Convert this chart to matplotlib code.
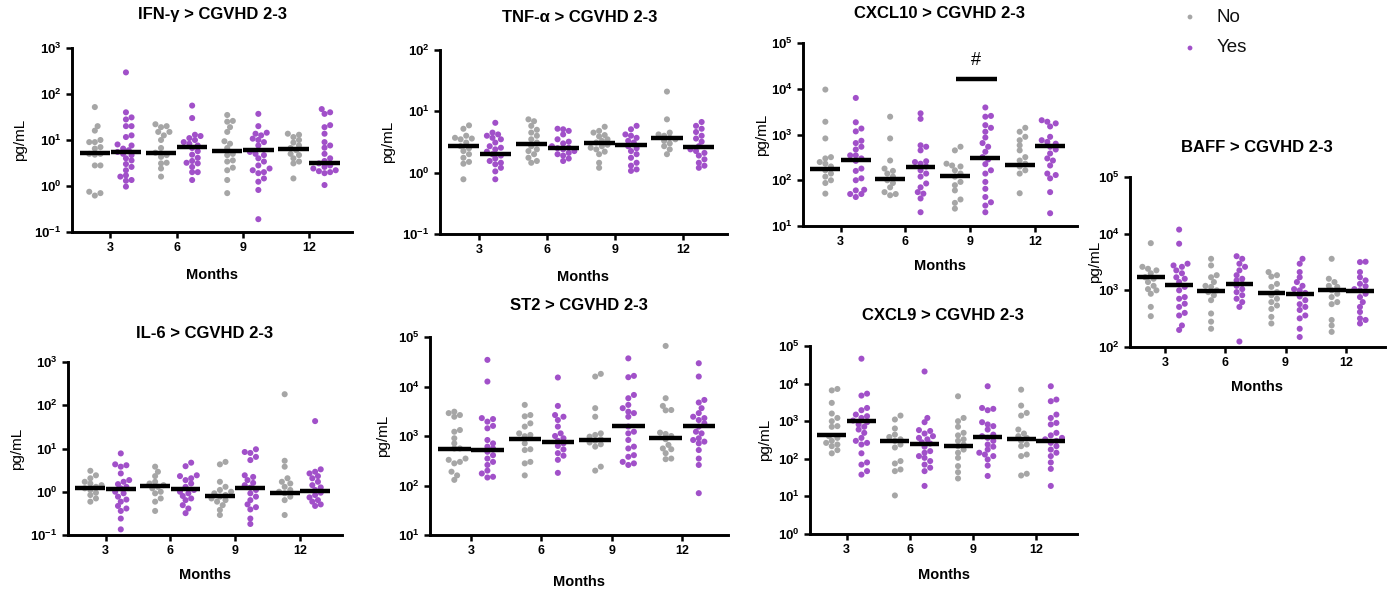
import numpy as np
import matplotlib
matplotlib.use('Agg')
import matplotlib.pyplot as plt

plt.rcParams['font.family'] = ['Liberation Sans', 'DejaVu Sans']
plt.rcParams['mathtext.fontset'] = 'custom'
plt.rcParams['mathtext.rm'] = 'Liberation Sans'
plt.rcParams['mathtext.bf'] = 'Liberation Sans:bold'

months = ['3', '6', '9', '12']
groups = ['No', 'Yes']

# values per month (3, 6, 9, 12), pg/mL
ifng_no = [[52, 20, 16, 10, 9, 9, 7, 6.5, 5, 5, 4.8, 2.8, 2.8, 0.75, 0.7, 0.62],
           [22, 20, 19, 15, 15, 12.6, 10, 6.7, 5.3, 4.7, 4.3, 3.2, 3.1, 2.4, 1.6],
           [35, 26, 25, 19, 15, 9.4, 8.3, 6.7, 5, 4.7, 3.6, 3.4, 2.5, 2.2, 1.35, 0.7],
           [13.7, 13, 11.6, 10, 8.8, 7.6, 6.7, 6, 5, 4.7, 4, 3.4, 3.1, 1.46]]
ifng_yes = [[295, 40, 31, 28, 20, 20, 12.6, 11.6, 8, 7.6, 6.5, 6, 5.5, 5, 4.7, 4, 3.6, 3, 2.6, 2.2, 1.7, 1.6, 1.35, 1.3, 0.97],
            [56, 30, 13, 12.2, 11, 10, 9, 8.3, 7.6, 6.7, 5.7, 4.8, 4.1, 3.5, 3.2, 3.1, 2.6, 2, 2, 1.35],
            [37, 20, 14.4, 13.7, 12.6, 10.7, 10, 9, 7.6, 5.5, 5, 4.7, 4, 3.4, 2.8, 2.4, 2.2, 2, 1.9, 1.46, 1.24, 0.82, 0.19],
            [47, 40, 37, 21, 19, 13.7, 9, 7.6, 6.8, 5, 4, 3.5, 3.1, 2.8, 2.6, 2.4, 2.2, 2.1, 2, 1.9, 1.05]]
ifng_med_no = [5.3, 5.2, 5.9, 6.3]
ifng_med_yes = [5.5, 7.0, 6.0, 3.2]

tnf_no = [[5.9, 5.2, 4, 3.7, 3.6, 3.5, 3.1, 2.7, 2.5, 2.25, 2, 1.75, 1.5, 1.4, 0.78],
          [7.4, 6.9, 5.8, 5, 4.5, 4, 3.5, 3.1, 2.7, 2.4, 2.25, 2, 1.75, 1.55, 1.45],
          [5.6, 4.8, 4.5, 4.1, 3.9, 3.5, 3.3, 3.1, 2.85, 2.7, 2.55, 2.4, 2.2, 2, 1.45, 1.2],
          [21, 7.4, 4.5, 4.2, 4, 3.7, 3.5, 3.3, 3.0, 2.7, 2.4, 2]]
tnf_yes = [[6.5, 4.5, 4.2, 4, 3.7, 3.5, 3.1, 2.7, 2.55, 2.4, 2.2, 2, 1.9, 1.7, 1.55, 1.45, 1.37, 1.2, 1.05, 0.78],
           [5.2, 5.1, 4.8, 4.2, 3.5, 3.2, 3.0, 2.7, 2.55, 2.5, 2.4, 2.25, 2.1, 2, 1.9, 1.7, 1.55],
           [5.8, 5.1, 4.2, 4, 3.7, 3.3, 3.1, 2.7, 2.5, 2.25, 2, 1.75, 1.45, 1.3, 1.13, 1.07],
           [6.7, 5.8, 5.2, 4.6, 4, 3.6, 3.2, 2.7, 2.4, 2.25, 2.1, 1.9, 1.65, 1.45, 1.3, 1.2]]
tnf_med_no = [2.7, 2.9, 3.1, 3.7]
tnf_med_yes = [2.0, 2.5, 2.8, 2.6]

cxcl10_no = [[9600, 1900, 820, 320, 300, 250, 230, 200, 165, 140, 120, 100, 87, 51],
             [2450, 820, 270, 180, 160, 140, 120, 100, 87, 70, 55, 50, 47],
             [540, 450, 230, 210, 200, 165, 140, 120, 92, 78, 60, 38, 32, 24],
             [1400, 1150, 890, 750, 580, 450, 320, 270, 230, 200, 165, 140, 52]]
cxcl10_yes = [[6300, 1850, 1350, 1170, 730, 650, 540, 470, 350, 350, 300, 265, 180, 160, 110, 100, 62, 60, 50, 50, 43],
              [2900, 2200, 580, 540, 450, 260, 250, 230, 200, 165, 140, 120, 85, 70, 55, 51, 40, 20],
              [3900, 2550, 2450, 1600, 1400, 1150, 860, 650, 540, 420, 320, 285, 225, 165, 140, 92, 65, 43, 33, 28, 20],
              [2050, 1900, 1750, 1500, 890, 750, 690, 630, 540, 470, 385, 300, 270, 210, 140, 130, 110, 55, 19]]
cxcl10_med_no = [175, 105, 125, 220]
cxcl10_med_yes = [275, 190, 300, 560]

il6_no = [[3.05, 2.4, 2.05, 1.7, 1.55, 1.42, 1.3, 1.2, 1.1, 0.95, 0.84, 0.7, 0.59],
          [3.8, 2.9, 2.3, 1.7, 1.55, 1.42, 1.3, 1.2, 1, 0.92, 0.7, 0.59, 0.36],
          [4.9, 4.3, 1.7, 1.3, 1.1, 1, 0.92, 0.84, 0.77, 0.7, 0.64, 0.59, 0.49, 0.38, 0.29],
          [180, 5.2, 3.8, 2.05, 1.7, 1.55, 1.3, 1.1, 1, 0.92, 0.77, 0.64, 0.29]]
il6_yes = [[7.7, 4.3, 4.1, 3.8, 2.65, 1.86, 1.7, 1.5, 1.3, 1.2, 1, 0.92, 0.77, 0.66, 0.59, 0.47, 0.41, 0.36, 0.24, 0.135],
           [4.7, 3.9, 2.4, 2.3, 2.05, 1.86, 1.55, 1.3, 1.1, 1, 0.92, 0.8, 0.7, 0.64, 0.49, 0.41, 0.32],
           [9.6, 8.3, 7.9, 6.4, 5.4, 2.4, 2.2, 1.86, 1.6, 1.42, 1.24, 1.1, 0.92, 0.77, 0.64, 0.51, 0.44, 0.39, 0.24, 0.18],
           [43, 3.3, 2.9, 2.65, 2.3, 2.05, 1.7, 1.42, 1.26, 1.1, 0.95, 0.84, 0.74, 0.64, 0.59, 0.51, 0.47]]
il6_med_no = [1.24, 1.37, 0.81, 0.95]
il6_med_yes = [1.13, 1.13, 1.19, 1.04]

st2_no = [[3100, 2900, 2650, 2450, 1320, 1220, 900, 710, 560, 560, 350, 330, 300, 280, 190, 160, 130],
          [4250, 2650, 2500, 1800, 1550, 1130, 1050, 990, 710, 540, 520, 300, 280, 160],
          [18000, 15900, 3650, 2450, 1130, 1050, 970, 860, 800, 740, 680, 610, 240, 200],
          [66000, 5800, 4050, 3350, 3300, 1170, 1100, 1000, 860, 660, 560, 540, 450, 350, 340]]
st2_yes = [[34500, 12600, 2300, 2200, 1950, 1600, 1430, 830, 710, 610, 560, 480, 410, 350, 300, 260, 200, 175, 150, 145],
           [15200, 4050, 2650, 2450, 2100, 1550, 1130, 1000, 900, 800, 710, 630, 535, 450, 400, 330, 180],
           [37000, 16400, 15400, 6750, 5800, 4250, 3650, 3100, 2900, 2450, 1550, 1220, 1130, 830, 610, 560, 410, 380, 300, 280, 260],
           [29500, 15900, 5350, 4750, 3650, 2900, 2450, 2300, 2100, 1800, 1550, 1220, 1130, 900, 830, 770, 710, 520, 350, 260, 70]]
st2_med_no = [555, 870, 830, 920]
st2_med_yes = [520, 770, 1600, 1620]

cxcl9_no = [[7200, 6600, 3070, 1600, 1220, 1000, 740, 710, 400, 360, 300, 265, 240, 217, 170, 140],
            [1410, 1110, 640, 440, 380, 330, 300, 240, 200, 87, 75, 52, 47, 10.6],
            [4600, 1220, 1000, 710, 490, 420, 330, 300, 240, 217, 176, 145, 106, 64, 44, 30],
            [6900, 2600, 1660, 1410, 600, 470, 400, 360, 300, 240, 217, 130, 118, 40, 36]]
cxcl9_yes = [[46000, 5400, 4800, 2250, 1960, 1500, 1360, 1220, 1040, 940, 820, 710, 600, 490, 360, 300, 265, 240, 140, 80, 70, 47, 38],
             [21000, 1220, 940, 580, 550, 470, 400, 360, 330, 275, 255, 210, 160, 145, 118, 106, 87, 70, 58, 47, 19],
             [8500, 2250, 2130, 1960, 940, 820, 740, 600, 440, 400, 360, 300, 240, 210, 176, 145, 130, 118, 96, 66, 35],
             [8500, 3760, 3400, 1500, 1220, 900, 820, 490, 420, 360, 330, 300, 265, 217, 176, 145, 118, 80, 54, 19]]
cxcl9_med_no = [420, 290, 225, 345]
cxcl9_med_yes = [1040, 250, 380, 300]

baff_no = [[6800, 2600, 2400, 2250, 2000, 1700, 1600, 1400, 1200, 1050, 1000, 870, 510, 350],
           [3600, 2750, 1850, 1700, 1400, 1200, 1150, 1000, 930, 820, 670, 390, 280, 210],
           [2100, 1850, 1750, 1300, 1150, 930, 820, 710, 620, 540, 470, 340, 260],
           [3600, 1600, 1400, 1200, 1150, 1000, 870, 760, 620, 570, 300, 240, 185]]
baff_yes = [[11800, 6650, 2950, 2750, 2600, 2250, 2000, 1700, 1600, 1400, 1150, 1000, 760, 710, 580, 510, 400, 360, 240, 200],
            [4000, 3600, 2950, 2600, 2250, 1850, 1600, 1500, 1300, 1200, 1050, 930, 820, 710, 620, 510, 125],
            [3600, 2950, 2100, 1700, 1400, 1200, 1050, 1000, 900, 780, 670, 570, 510, 450, 360, 320, 210, 150],
            [3200, 3150, 2100, 1700, 1500, 1300, 1180, 1050, 1000, 870, 760, 620, 510, 415, 320, 300, 260]]
baff_med_no = [1720, 970, 910, 1000]
baff_med_yes = [1260, 1280, 850, 960]

# significance marker on CXCL10 at 9 months
cxcl10_sig_y = 16300

W, H = 1395, 592
GREY = '#a6a6a6'
PURPLE = '#a150c9'
XLIM = (-0.58, 3.65)
OFF = 0.235

fig = plt.figure(figsize=(W / 100, H / 100), dpi=100)


def px_axes(left, top, right, bottom):
    return fig.add_axes([left / W, 1 - bottom / H, (right - left) / W, (bottom - top) / H])


def swarm(vals, ylim, h_px, w_px, diam=5.6, max_px=17):
    # beeswarm offsets (in x data units) so dots don't pile on top of each other
    ppd = h_px / (np.log10(ylim[1]) - np.log10(ylim[0]))
    ppu = w_px / (XLIM[1] - XLIM[0])
    ys = np.log10(vals) * ppd
    step = diam / 2
    cands = [0.0]
    k = 1
    while k * step <= max_px:
        cands += [k * step, -k * step]
        k += 1
    placed = []
    xs = np.zeros(len(vals))
    for i in np.argsort(ys):
        best, bestd, bestc = None, -1, 0.0
        for c in cands:
            d = min([np.hypot(c - px, ys[i] - py) for px, py in placed] or [1e9])
            if d >= diam * 0.9:
                best = c
                break
            if d > bestd:
                bestd, bestc = d, c
        if best is None:
            best = bestc
        placed.append((best, ys[i]))
        xs[i] = best / ppu
    return xs


panels = [
    ('IFN-\u03b3 > CGVHD 2-3', ifng_no, ifng_yes, ifng_med_no, ifng_med_yes, (0.1, 1e3),
     (72, 48, 352, 232), 20, (212, 15), 275),
    ('TNF-\u03b1 > CGVHD 2-3', tnf_no, tnf_yes, tnf_med_no, tnf_med_yes, (0.1, 1e2),
     (440, 50, 727, 234), 388, (580, 17), 277),
    ('CXCL10 > CGVHD 2-3', cxcl10_no, cxcl10_yes, cxcl10_med_no, cxcl10_med_yes, (10, 1e5),
     (803, 43, 1077, 226), 762, (940, 13), 266),
    ('IL-6 > CGVHD 2-3', il6_no, il6_yes, il6_med_no, il6_med_yes, (0.1, 1e3),
     (68, 362, 342, 535), 17, (205, 333), 575),
    ('ST2 > CGVHD 2-3', st2_no, st2_yes, st2_med_no, st2_med_yes, (10, 1e5),
     (430, 337, 728, 535), 383, (579, 305), 582),
    ('CXCL9 > CGVHD 2-3', cxcl9_no, cxcl9_yes, cxcl9_med_no, cxcl9_med_yes, (1, 1e5),
     (810, 346, 1077, 534), 765, (943, 315), 575),
    ('BAFF > CGVHD 2-3', baff_no, baff_yes, baff_med_no, baff_med_yes, (100, 1e5),
     (1130, 177, 1385, 347), 1095, (1257, 148), 387),
]

axes = []
for title, no, yes, med_no, med_yes, ylim, rect, ylab_x, title_xy, months_y in panels:
    left, top, right, bottom = rect
    ax = px_axes(left, top, right, bottom)
    axes.append(ax)
    ax.set_yscale('log')
    ax.set_ylim(*ylim)
    ax.set_xlim(*XLIM)
    for i in range(4):
        for vals, off, col, med in ((no[i], -OFF, GREY, med_no[i]), (yes[i], OFF, PURPLE, med_yes[i])):
            v = np.array(vals, dtype=float)
            xs = i + off + swarm(v, ylim, bottom - top, right - left)
            ax.scatter(xs, v, s=19, color=col, edgecolors='none', zorder=2, clip_on=False)
            ax.plot([i + off - 0.23, i + off + 0.23], [med, med], color='black', lw=3.2,
                    solid_capstyle='butt', zorder=3)
    lo, hi = int(np.log10(ylim[0])), int(np.log10(ylim[1]))
    dec = list(range(lo, hi + 1))
    ax.set_yticks([10.0 ** d for d in dec])
    ax.set_yticklabels([r'$\mathbf{10^{%d}}$' % d for d in dec], fontsize=9.5)
    ax.minorticks_off()
    ax.set_xticks(range(4))
    ax.set_xticklabels(months, fontsize=9, fontweight='bold')
    ax.tick_params(axis='both', direction='out', length=4.5, width=1.8, color='black', pad=3)
    for s in ('top', 'right'):
        ax.spines[s].set_visible(False)
    for s in ('left', 'bottom'):
        ax.spines[s].set_linewidth(2.1)
        ax.spines[s].set_color('black')
    ax.set_facecolor('none')
    cy = (top + bottom) / 2
    fig.text(ylab_x / W, 1 - cy / H, 'pg/mL', rotation=90, ha='center', va='center', fontsize=11)
    fig.text(title_xy[0] / W, 1 - title_xy[1] / H, title, ha='center', va='center',
             fontsize=12, fontweight='bold')
    fig.text((left + right) / 2 / W, 1 - months_y / H, 'Months', ha='center', va='center',
             fontsize=10.5, fontweight='bold')

# significance bar on CXCL10, 9 months
ax10 = axes[2]
ax10.plot([2 - 0.22, 2 + 0.42], [cxcl10_sig_y, cxcl10_sig_y], color='black', lw=3.2,
          solid_capstyle='butt', clip_on=False)
ax10.text(2 + 0.09, cxcl10_sig_y * 2.6, '#', ha='center', va='center', fontsize=13)

# legend
for lab, y in (('No', 17), ('Yes', 48)):
    fig.text(1217 / W, 1 - y / H, lab, ha='left', va='center', fontsize=13.5, color='#111111')
leg_ax = fig.add_axes([0, 0, 1, 1], facecolor='none')
leg_ax.set_xlim(0, W)
leg_ax.set_ylim(H, 0)
leg_ax.axis('off')
leg_ax.scatter([1190, 1190], [17, 48], s=12, color=[GREY, PURPLE], edgecolors='none')

fig.savefig('out.png', dpi=100)
